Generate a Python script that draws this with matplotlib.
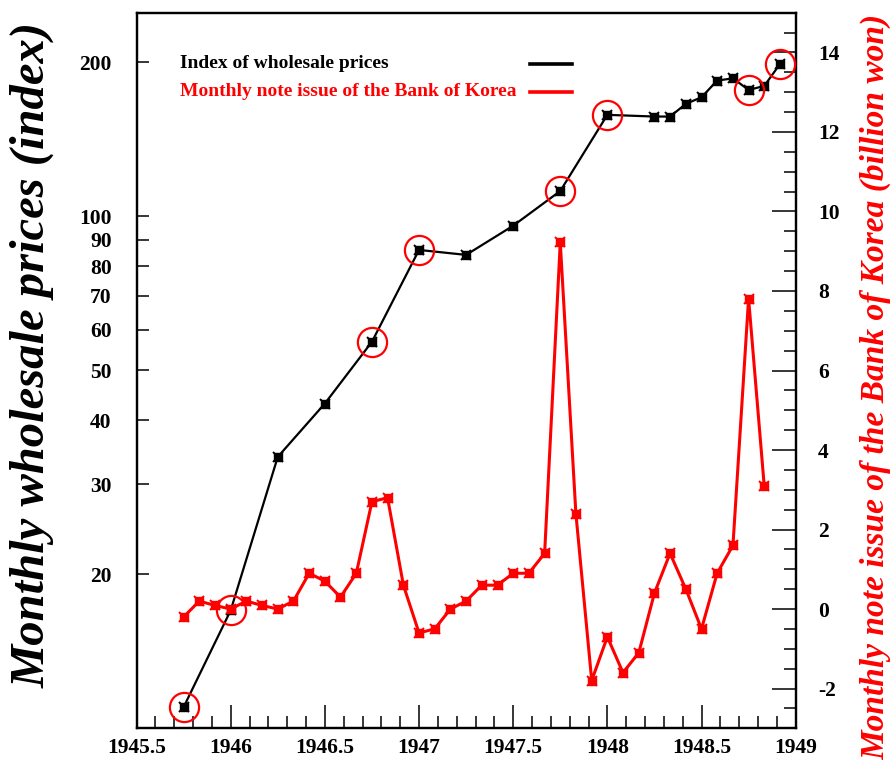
import matplotlib
matplotlib.use("Agg")
import matplotlib.pyplot as plt
from matplotlib.ticker import FixedLocator, MultipleLocator, NullFormatter, NullLocator

# Index of wholesale prices (left axis, log scale)
price_year = [1945.750, 1946.000, 1946.250, 1946.500, 1946.750, 1947.000,
              1947.250, 1947.500, 1947.750, 1948.000, 1948.250, 1948.333,
              1948.417, 1948.500, 1948.583, 1948.667, 1948.750, 1948.833,
              1948.917]
price_index = [11.0, 17.0, 33.9, 43.1, 56.9, 86.0, 84.1, 95.9, 112.1, 157.9,
               156.7, 156.7, 165.9, 170.9, 184.2, 186.1, 176.6, 179.8, 198.5]

# points of the price index ringed in red
ringed = [0, 1, 4, 5, 8, 9, 16, 18]

# Monthly note issue of the Bank of Korea (right axis, billion won)
note_year = [1945.750, 1945.833, 1945.917, 1946.000, 1946.083, 1946.167,
             1946.250, 1946.333, 1946.417, 1946.500, 1946.583, 1946.667,
             1946.750, 1946.833, 1946.917, 1947.000, 1947.083, 1947.167,
             1947.250, 1947.333, 1947.417, 1947.500, 1947.583, 1947.667,
             1947.750, 1947.833, 1947.917, 1948.000, 1948.083, 1948.167,
             1948.250, 1948.333, 1948.417, 1948.500, 1948.583, 1948.667,
             1948.750, 1948.833]
note_issue = [-0.20, 0.20, 0.09, 0.0, 0.20, 0.09, 0.0, 0.20, 0.90, 0.70,
              0.30, 0.90, 2.70, 2.80, 0.60, -0.60, -0.50, 0.0, 0.20, 0.60,
              0.60, 0.90, 0.90, 1.40, 9.22, 2.40, -1.80, -0.70, -1.60, -1.10,
              0.40, 1.40, 0.50, -0.50, 0.90, 1.60, 7.81, 3.10]

x_ticks = [1945.5, 1946, 1946.5, 1947, 1947.5, 1948, 1948.5, 1949]
x_labels = ["1945.5", "1946", "1946.5", "1947", "1947.5", "1948", "1948.5", "1949"]
left_ticks = [10, 20, 30, 40, 50, 60, 70, 80, 90, 100, 200]
left_labels = ["", "20", "30", "40", "50", "60", "70", "80", "90", "100", "200"]
right_ticks = [-2, 0, 2, 4, 6, 8, 10, 12, 14]
right_labels = ["-2", "0", "2", "4", "6", "8", "10", "12", "14"]

RED = "#ff0000"
FONT = ["Liberation Serif", "DejaVu Serif"]

plt.rcParams.update({"font.family": FONT, "font.weight": "bold"})

fig = plt.figure(figsize=(8.93, 7.6), dpi=100)
rect = [0.1529, 0.0417, 0.891 - 0.1529, 0.9833 - 0.0417]
ax = fig.add_axes(rect)
ax2 = ax.twinx()

for a in (ax, ax2):
    for s in a.spines.values():
        s.set_linewidth(1.6)

# black series
ax.plot(price_year, price_index, color="black", lw=1.6, zorder=3)
ax.plot(price_year, price_index, ls="none", marker="s", ms=5.5, color="black", zorder=4)
ax.plot(price_year, price_index, ls="none", marker="x", ms=7, mew=1.4, color="black", zorder=4)

ax.set_yscale("log")
ax.set_xlim(1945.5, 1949.0)
ax.set_ylim(10, 250)
ax.yaxis.set_major_locator(FixedLocator(left_ticks))
ax.yaxis.set_minor_locator(NullLocator())
ax.set_yticklabels(left_labels)
ax.yaxis.set_minor_formatter(NullFormatter())
ax.tick_params(axis="y", which="major", direction="in", length=8.6, width=1.1,
               pad=18, labelsize=15.5)

ax.xaxis.set_minor_locator(MultipleLocator(0.1))
ax.set_xticks(x_ticks)
ax.set_xticklabels(x_labels)
ax.tick_params(axis="x", which="major", direction="in", length=16.5, width=1.1,
               pad=7, labelsize=15.5, top=False)
ax.tick_params(axis="x", which="minor", direction="in", length=8.6, width=1.1, top=False)

# red series on the right axis
ax2.plot(note_year, note_issue, color=RED, lw=2.2, zorder=3)
ax2.plot(note_year, note_issue, ls="none", marker="s", ms=5.5, color=RED, zorder=4)
ax2.plot(note_year, note_issue, ls="none", marker="x", ms=7, mew=1.4, color=RED, zorder=4)
ax2.set_ylim(-3, 15)
ax2.yaxis.set_minor_locator(MultipleLocator(0.5))
ax2.set_yticks(right_ticks)
ax2.set_yticklabels(right_labels)
ax2.tick_params(axis="y", which="major", direction="in", length=17, width=1.1,
                pad=16, labelsize=15.5)
ax2.tick_params(axis="y", which="minor", direction="in", length=8.6, width=1.1)

# red rings around selected price points, on an overlay with the price scale
ax3 = fig.add_axes(rect, frameon=False)
ax3.set_xlim(1945.5, 1949.0)
ax3.set_yscale("log")
ax3.set_ylim(10, 250)
ax3.set_xticks([])
ax3.set_yticks([])
ax3.yaxis.set_minor_locator(NullLocator())
ax3.patch.set_visible(False)
ring_x = [price_year[i] for i in ringed]
ring_y = [price_index[i] for i in ringed]
ax3.plot(ring_x, ring_y, ls="none", marker="o", ms=21, mfc="none", mec=RED, mew=1.6)

# legend
fig.text(180 / 893, 1 - 63 / 760, "Index of wholesale prices", fontsize=14,
         ha="left", va="center", color="black")
fig.text(180 / 893, 1 - 92 / 760, "Monthly note issue of the Bank of Korea", fontsize=14,
         ha="left", va="center", color=RED)
fig.add_artist(plt.Line2D([530 / 893, 572 / 893], [1 - 64 / 760, 1 - 64 / 760],
                          color="black", lw=2.6))
fig.add_artist(plt.Line2D([530 / 893, 572 / 893], [1 - 92 / 760, 1 - 92 / 760],
                          color=RED, lw=2.6))

# axis titles
fig.text(32 / 893, 1 - 355 / 760, "Monthly wholesale prices (index)", rotation=90,
         fontsize=35, style="italic", ha="center", va="center", color="black")
fig.text(876 / 893, 1 - 387 / 760, "Monthly note issue of the Bank of Korea (billion won)",
         rotation=90, fontsize=24, style="italic", ha="center", va="center", color=RED)

fig.savefig("out.png", dpi=100)
